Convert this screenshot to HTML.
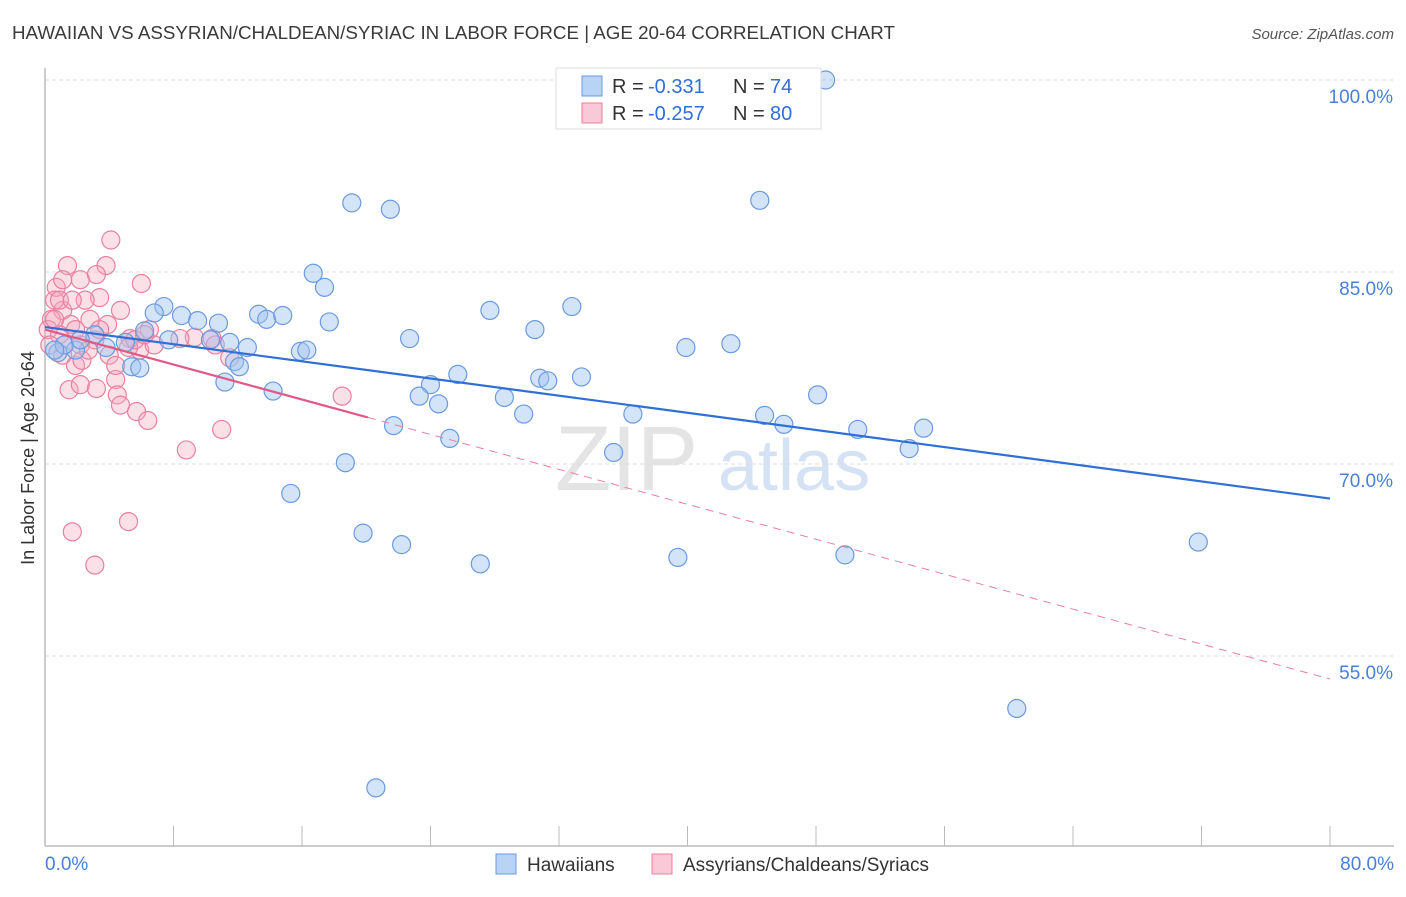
<!DOCTYPE html>
<html><head><meta charset="utf-8"><style>
body{margin:0;background:#fff;font-family:"Liberation Sans",sans-serif;}
svg text{font-family:"Liberation Sans",sans-serif;}
</style></head><body>
<svg id="chart" width="1406" height="892" viewBox="0 0 1406 892" xmlns="http://www.w3.org/2000/svg">
<text x="12" y="39" font-size="18" fill="#3a3a3a" textLength="883" lengthAdjust="spacingAndGlyphs">HAWAIIAN VS ASSYRIAN/CHALDEAN/SYRIAC IN LABOR FORCE | AGE 20-64 CORRELATION CHART</text>
<text x="1394" y="39" font-size="15" font-style="italic" fill="#555" text-anchor="end">Source: ZipAtlas.com</text>
<text transform="translate(34,458) rotate(-90)" font-size="18" fill="#333" text-anchor="middle">In Labor Force | Age 20-64</text>
<g><text x="555" y="490" font-size="92" font-family="Liberation Serif, serif" fill="#e4e4e4">ZIP</text><text x="718" y="490" font-size="72" fill="#d4e2f4">atlas</text></g>
<g id="grid"></g><g id="axes"></g><g id="pts"></g><g id="lines"></g>
<g>
<rect x="556" y="68" width="265" height="61" fill="#fff" stroke="#ddd"/>
<rect x="582" y="76" width="20" height="20" fill="#b9d3f5" stroke="#6a9ae0"/>
<rect x="582" y="103" width="20" height="20" fill="#f9c9d7" stroke="#e8809f"/>
<text x="612" y="93" font-size="20" fill="#333">R =</text>
<text x="648" y="93" font-size="20" fill="#2f6fd6">-0.331</text>
<text x="733" y="93" font-size="20" fill="#333">N =</text>
<text x="770" y="93" font-size="20" fill="#2f6fd6">74</text>
<text x="612" y="120" font-size="20" fill="#333">R =</text>
<text x="648" y="120" font-size="20" fill="#2f6fd6">-0.257</text>
<text x="733" y="120" font-size="20" fill="#333">N =</text>
<text x="770" y="120" font-size="20" fill="#2f6fd6">80</text>
</g>
<g>
<rect x="496" y="854" width="20" height="20" fill="#b9d3f5" stroke="#6a9ae0"/>
<text x="527" y="871" font-size="19" fill="#333">Hawaiians</text>
<rect x="652" y="854" width="20" height="20" fill="#f9c9d7" stroke="#e8809f"/>
<text x="683" y="871" font-size="19" fill="#333">Assyrians/Chaldeans/Syriacs</text>
</g>
</svg>
<script>
const yTicks=[100,85,70,55];
const yTickLabels=["100.0%","85.0%","70.0%","55.0%"];
const xTickLabels=["0.0%","80.0%"];
const hawX=[48.6,19.1,21.5,44.5,16.7,17.4,7.4,6.8,8.5,9.5,10.8,13.3,13.8,14.8,17.7,27.7,32.8,30.5,22.7,6.2,7.7,3.1,5.0,3.8,12.6,15.9,16.3,11.8,12.1,5.4,5.9,0.8,1.9,39.9,42.7,25.7,24.0,30.8,31.3,33.4,11.2,14.2,23.3,24.5,28.6,29.8,36.6,44.8,46.0,48.1,50.6,54.7,53.8,21.7,25.2,35.4,18.7,15.3,19.8,22.2,27.1,39.4,49.8,71.8,60.5,20.6,1.2,2.2,10.3,11.5,0.6];
const hawY=[100.0,90.4,89.9,90.6,84.9,83.8,82.3,81.8,81.6,81.2,81.0,81.7,81.3,81.6,81.1,82.0,82.3,80.5,79.8,80.4,79.7,80.1,79.5,79.1,79.1,78.8,78.9,78.0,77.6,77.6,77.5,78.7,78.9,79.1,79.4,77.0,76.2,76.7,76.5,76.8,76.4,75.7,75.3,74.7,75.2,73.9,73.9,73.8,73.1,75.4,72.7,72.8,71.2,73.0,72.0,70.9,70.1,67.7,64.6,63.7,62.2,62.7,62.9,63.9,50.9,44.7,79.3,79.7,79.7,79.5,78.9];
const assX=[4.1,1.4,3.8,3.2,2.2,0.7,6.0,3.4,1.1,0.6,0.4,1.6,2.8,3.9,4.7,0.2,0.9,2.2,3.1,5.3,5.9,6.5,5.2,6.8,1.1,1.9,2.3,4.4,4.5,4.7,5.7,6.4,1.5,3.2,2.2,8.8,11.0,11.5,9.3,10.4,18.5,1.7,5.2,3.1,0.9,2.5,3.4,4.0,0.3,1.2,0.6,2.7,1.9,5.6,6.2,8.4,10.6,1.1,1.7,4.4];
const assY=[87.5,85.5,85.5,84.8,84.4,83.8,84.1,83.0,82.0,82.8,81.3,80.9,81.3,80.9,82.0,80.5,80.1,79.3,79.7,79.8,78.9,80.5,79.1,79.3,78.5,77.7,78.1,76.6,75.4,74.6,74.1,73.4,75.8,75.9,76.2,71.1,72.7,78.3,79.9,79.8,75.3,64.7,65.5,62.1,82.8,82.8,80.5,78.5,79.3,79.3,81.3,78.9,80.5,79.7,80.1,79.8,79.3,84.4,82.8,77.7];
const hawTrend=[80.7,67.3];
const assTrend=[80.5,53.2];
const assSolidEnd=20.1;
const NS="http://www.w3.org/2000/svg";
const X=v=>45+v*(1285/80);
const Y=v=>80+(100-v)*12.8;
function mk(tag,parent,attrs){const e=document.createElementNS(NS,tag);for(const k in attrs)e.setAttribute(k,attrs[k]);parent.appendChild(e);return e;}
const grid=document.getElementById('grid'),axes=document.getElementById('axes'),pts=document.getElementById('pts'),lines=document.getElementById('lines');
yTicks.forEach((t,i)=>{
 const l=mk('line',grid,{x1:45,x2:1394,y1:Y(t),y2:Y(t),stroke:'#ddd','stroke-dasharray':'4,3'});
 
 
 const tx=mk('text',axes,{x:1393,y:Y(t)+23,'font-size':19,fill:'#4a7fd8','text-anchor':'end'});
 tx.textContent=yTickLabels[i];
 
 
});
const ax=mk('line',axes,{x1:45,x2:1394,y1:846,y2:846,stroke:'#bbb','stroke-width':1.5});


const ay=mk('line',axes,{x1:45,x2:45,y1:68,y2:846,stroke:'#bbb','stroke-width':1.5});


for(let i=0;i<=10;i++){
 const t=mk('line',axes,{x1:X(i*8),x2:X(i*8),y1:826,y2:846,stroke:'#bbb'});
 
 
}
[[0,'start',45],[1,'end',1394]].forEach(([i,a,x])=>{
 const tx=mk('text',axes,{x:x,y:870,'font-size':19,fill:'#4a7fd8','text-anchor':a});
 tx.textContent=xTickLabels[i];
 
 
});
assX.forEach((v,i)=>{
 const c=mk('circle',pts,{cx:X(v),cy:Y(assY[i]),r:9,fill:'rgba(245,165,190,0.35)',stroke:'#e8809f','stroke-width':1.2});
 
 
});
hawX.forEach((v,i)=>{
 const c=mk('circle',pts,{cx:X(v),cy:Y(hawY[i]),r:9,fill:'rgba(160,195,240,0.45)',stroke:'#6a9ae0','stroke-width':1.2});
 
 
});
const hl=mk('line',lines,{x1:X(0),y1:Y(hawTrend[0]),x2:X(80),y2:Y(hawTrend[1]),stroke:'#2f6fd6','stroke-width':2.2});


const aAt=x=>assTrend[0]+(assTrend[1]-assTrend[0])*x/80;
const al=mk('line',lines,{x1:X(0),y1:Y(assTrend[0]),x2:X(assSolidEnd),y2:Y(aAt(assSolidEnd)),stroke:'#e05a86','stroke-width':2.2});


const ad=mk('line',lines,{x1:X(assSolidEnd),y1:Y(aAt(assSolidEnd)),x2:X(80),y2:Y(assTrend[1]),stroke:'#e8809f','stroke-width':1,'stroke-dasharray':'8,6'});


</script>
</body></html>
